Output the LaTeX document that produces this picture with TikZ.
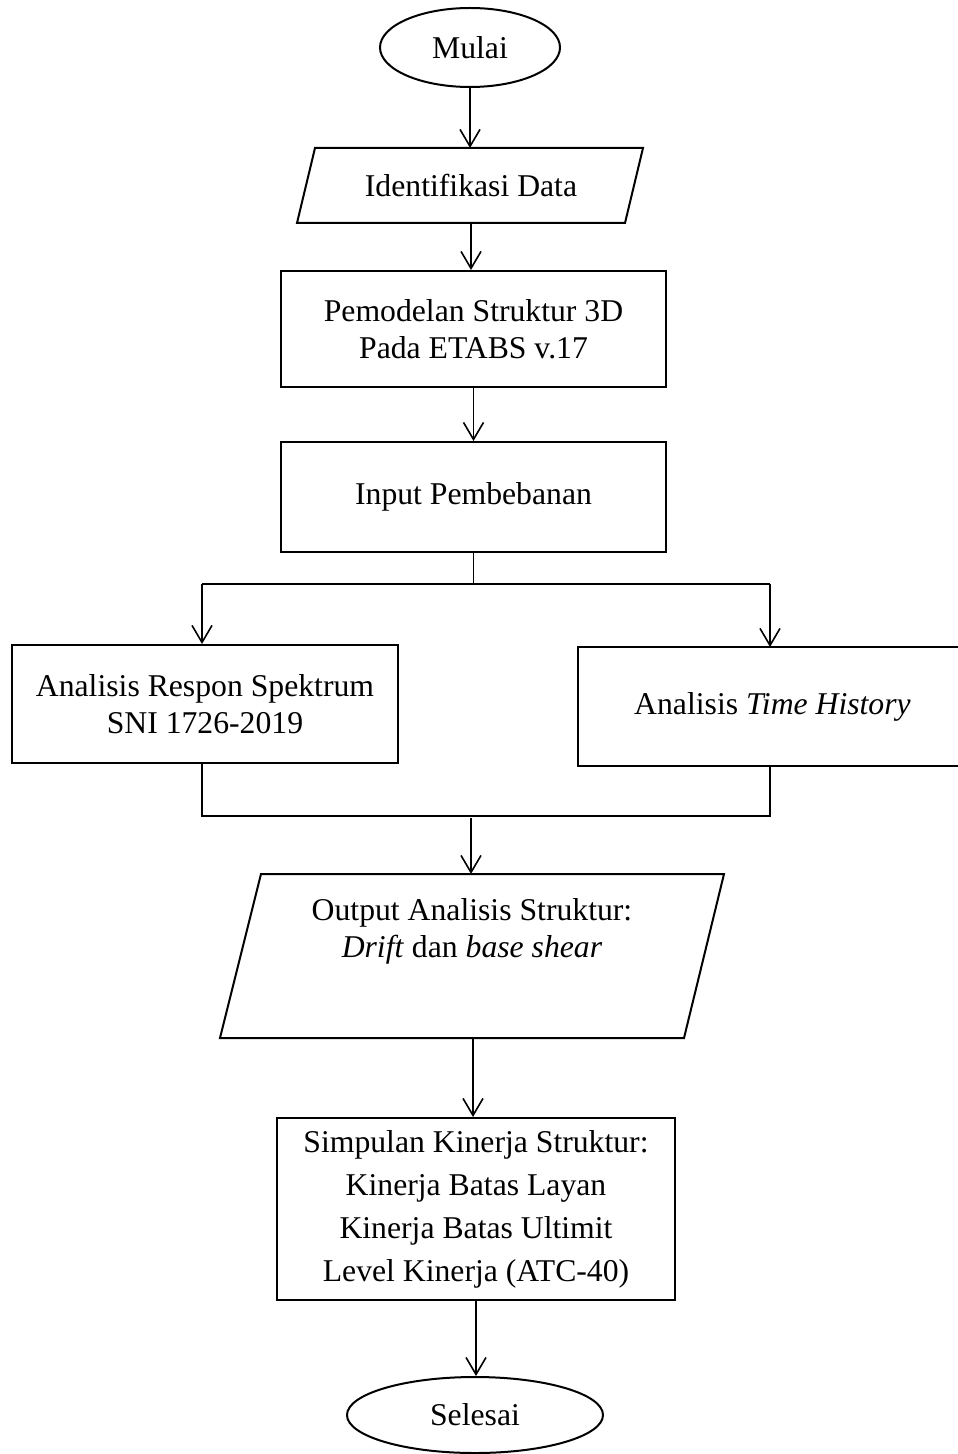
\documentclass[tikz,border=0pt]{standalone}
\usepackage{fontspec}
\setmainfont{Liberation Serif}
\usetikzlibrary{arrows.meta,shapes.geometric}
\begin{document}
\begin{tikzpicture}[x=0.5pt,y=-0.5pt,
  box/.style={draw, line width=1pt, rectangle, inner sep=0pt, align=center, font=\fontsize{15.85}{18.5}\selectfont},
  term/.style={draw, line width=1pt, ellipse, inner sep=0pt, font=\fontsize{15.85}{18.5}\selectfont},
  txt/.style={inner sep=0pt, align=center, font=\fontsize{15.85}{18.5}\selectfont},
  io/.style={draw, line width=1pt, line join=miter},
  conn/.style={line width=0.8pt},
  arr/.style={conn, -{Straight Barb[length=8.5pt,width=10pt,line width=0.8pt]}},
]
\useasboundingbox (0,0) rectangle (957,1454);

% start
\node[term, minimum width=90pt, minimum height=39.5pt] (start) at (470,47.5) {Mulai};

% Identifikasi Data (input/output)
\node[txt] (ident) at (471,185.5) {Identifikasi Data};
\draw[io] (315,148) -- (643,148) -- (625,223) -- (297,223) -- cycle;
\coordinate (identN) at (470,148);
\coordinate (identS) at (471,223);

% modelling
\node[box, minimum width=192.5pt, minimum height=58pt] (model) at (473.5,329) {Pemodelan Struktur 3D\\Pada ETABS v.17};
\node[box, minimum width=192.5pt, minimum height=55pt] (input) at (473.5,497) {Input Pembebanan};

% split
\coordinate (splitL) at (202,584);
\coordinate (splitR) at (770,584);

\node[box, minimum width=193pt, minimum height=59pt] (rs) at (205,704) {Analisis Respon Spektrum\\SNI 1726-2019};
\node[box, draw=none, minimum width=193.5pt, minimum height=58.5pt] (th) at (772.5,706.5) {Analisis \textit{Time History}};
\draw[io] ([xshift=10pt]th.north east) -- (th.north west) -- (th.south west) -- ([xshift=10pt]th.south east);

% merge
\coordinate (mergeL) at (202,816);
\coordinate (mergeR) at (770,816);
\coordinate (merge) at (471,818);

% output parallelogram
\node[txt] (outp) at (472,931.5) {Output Analisis Struktur:\\\textit{Drift} dan \textit{base shear}};
\draw[io] (261,874) -- (724,874) -- (684,1038) -- (220,1038) -- cycle;
\coordinate (outN) at (471,874);
\coordinate (outS) at (473,1038);

% conclusion
\node[box, minimum width=199pt, minimum height=91pt, font=\fontsize{15.85}{21.5}\selectfont] (simp) at (476,1209) {Simpulan Kinerja Struktur:\\Kinerja Batas Layan\\Kinerja Batas Ultimit\\Level Kinerja (ATC-40)};

% end
\node[term, minimum width=128pt, minimum height=38pt] (end) at (475,1415) {Selesai};

% connectors
\draw[arr] (start.south) -- (start.south |- identN);
\draw[arr] (identS) -- (identS |- model.north);
\draw[arr] (model.south) -- (input.north);
\draw[conn] (input.south) -- (input.south |- splitL);
\draw[conn] (splitL) -- (splitR);
\draw[arr] (splitL) -- (splitL |- rs.north);
\draw[arr] (splitR) -- (splitR |- th.north);
\draw[conn] (splitL |- rs.south) -- (mergeL) -- (mergeR) -- (splitR |- th.south);
\draw[arr] (merge) -- (outN);
\draw[arr] (outS) -- (outS |- simp.north);
\draw[arr] (simp.south) -- (simp.south |- end.north);
\end{tikzpicture}
\end{document}
